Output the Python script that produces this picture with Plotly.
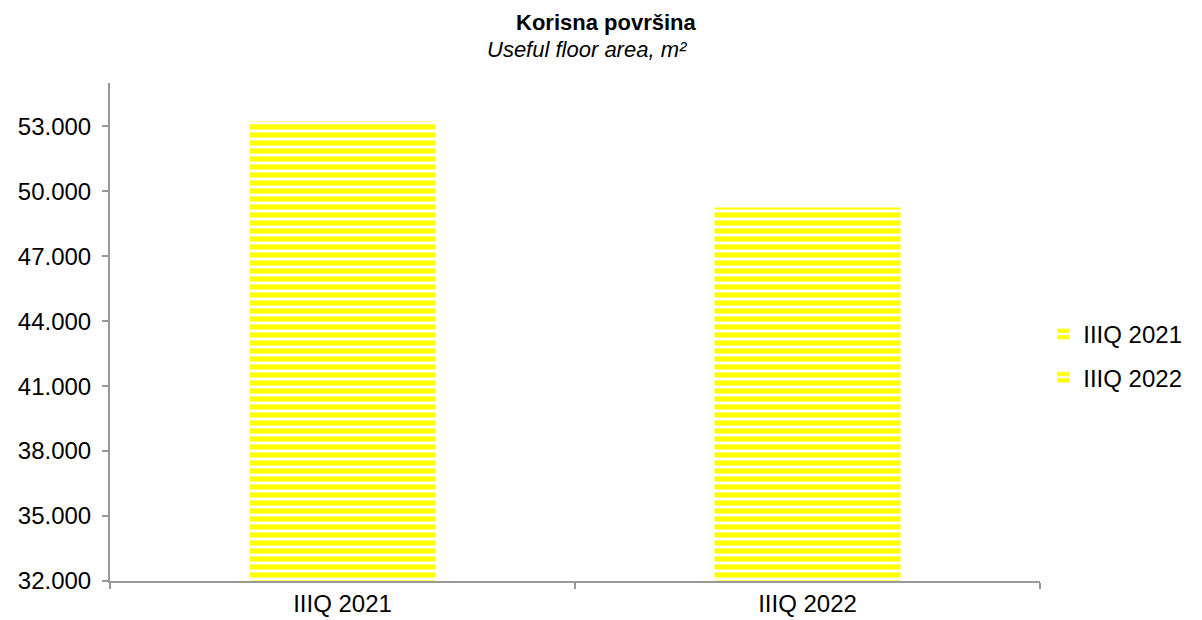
import plotly.graph_objects as go

categories = ["IIIQ 2021", "IIIQ 2022"]
values = [53230, 49250]
tick_vals = [32000, 35000, 38000, 41000, 44000, 47000, 50000, 53000]
tick_text = ["32.000", "35.000", "38.000", "41.000", "44.000", "47.000", "50.000", "53.000"]

FONT = "Liberation Sans, Arial, sans-serif"

fig = go.Figure()
for i, (c, v) in enumerate(zip(categories, values)):
    fig.add_trace(go.Bar(
        x=[c], y=[v], name=c, legendgroup=c,
        marker=dict(color="white", line=dict(width=0),
                    pattern=dict(shape="-", fgcolor="#FFFF00", bgcolor="white",
                                 fillmode="overlay", fgopacity=1,
                                 size=8, solidity=0.65)),
    ))

# page body has 8px margin, so figure coords are shifted by 8px
L, R, T, B = 102, 170, 75, 47
PH = 620 - T - B
PW = 1202 - L - R

fig.add_annotation(text="<b>Korisna površina</b>", xref="paper", yref="paper",
                   x=(598 - L) / PW, y=1.0 + (T - 0.5) / PH, xanchor="center", yanchor="top",
                   showarrow=False, font=dict(family=FONT, size=22, color="black"))
fig.add_annotation(text="<i>Useful floor area, m²</i>", xref="paper", yref="paper",
                   x=(579 - L) / PW, y=1.0 + (T - 27) / PH, xanchor="center", yanchor="top",
                   showarrow=False, font=dict(family=FONT, size=22, color="black"))

fig.update_layout(
    width=1202, height=620,
    margin=dict(l=L, r=R, t=T, b=B, autoexpand=False),
    paper_bgcolor="white", plot_bgcolor="white",
    barmode="overlay", bargap=0.6,
    font=dict(family=FONT, size=24, color="black"),
    legend=dict(x=1.0035, xanchor="left", y=0.452, yanchor="middle",
                font=dict(family=FONT, size=24), tracegroupgap=9,
                itemwidth=30),
    showlegend=True,
)
fig.update_yaxes(range=[32000, 55000], tickvals=tick_vals, ticktext=tick_text,
                 showgrid=False, zeroline=False, showline=True, linecolor="#999999",
                 linewidth=2, ticks="outside", ticklen=6, tickcolor="#999999",
                 tickwidth=2, automargin=False, ticklabelstandoff=6)
fig.update_xaxes(showgrid=False, showline=True, linecolor="#999999", linewidth=2,
                 ticks="outside", tickson="boundaries", ticklen=6,
                 tickcolor="#999999", tickwidth=2, automargin=False)

fig.write_html("out.html")
